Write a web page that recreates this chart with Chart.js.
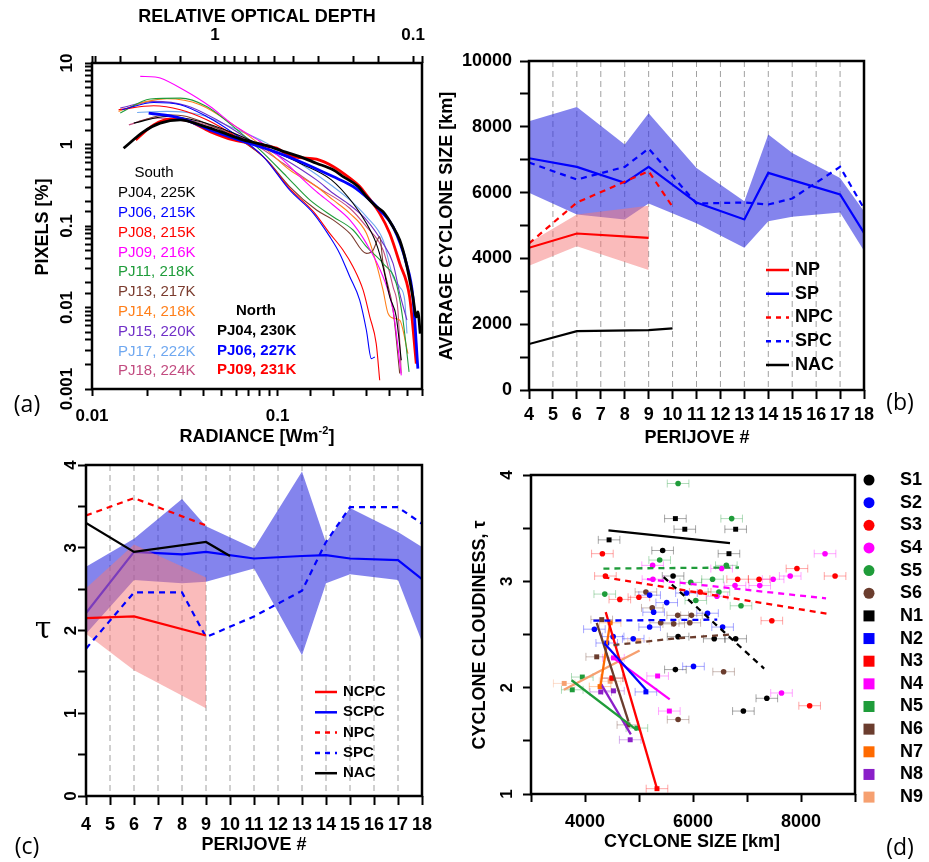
<!DOCTYPE html>
<html>
<head>
<meta charset="utf-8">
<title>Cyclone size and cloudiness</title>
<script src="https://cdn.jsdelivr.net/npm/chart.js@4.4.1/dist/chart.umd.min.js"></script>
<style>
  body { margin: 0; background: #fff; }
  #page { position: relative; width: 929px; height: 862px; overflow: hidden; background: #fff; }
  canvas { position: absolute; }
</style>
</head>
<body>
<div id="page">
  <canvas id="panelA" width="460" height="450" style="left:0px;top:0px"></canvas>
  <canvas id="panelB" width="499" height="420" style="left:430px;top:30px"></canvas>
  <canvas id="panelC" width="460" height="422" style="left:0px;top:440px"></canvas>
  <canvas id="panelD" width="489" height="422" style="left:440px;top:440px"></canvas>
</div>
<script>
const FONT = '"Liberation Sans", Arial, Helvetica, sans-serif';
Chart.defaults.font.family = FONT;
Chart.defaults.color = '#000';

// ---------- (a) radiance histograms, [radiance, pixels %] ----------
const southPJ04 = [[0.0168,1.83],[0.0253,2.21],[0.0382,1.92],[0.0578,1.38],[0.0873,0.902],[0.132,0.589],[0.195,0.368],[0.255,0.19],[0.301,0.108],[0.340,0.0612],[0.370,0.0316],[0.402,0.0135],[0.436,0.00767],[0.464,0.00225]];
const southPJ06 = [[0.0145,2.67],[0.0215,3.28],[0.0299,3.08],[0.0415,2.21],[0.0578,1.38],[0.0837,0.711],[0.116,0.277],[0.156,0.143],[0.191,0.074],[0.216,0.0461],[0.245,0.0238],[0.277,0.0123],[0.301,0.00526],[0.320,0.00236],[0.334,0.00247]];
const southPJ08 = [[0.0139,2.67],[0.0215,2.99],[0.0299,2.67],[0.0415,2.01],[0.0578,1.31],[0.0837,0.711],[0.116,0.290],[0.156,0.150],[0.191,0.0813],[0.225,0.0507],[0.255,0.0316],[0.289,0.0163],[0.314,0.00767],[0.340,0.0036],[0.355,0.00128]];
const southPJ09 = [[0.0182,6.85],[0.0219,6.73],[0.0233,6.54],[0.0311,4.70],[0.0433,2.93],[0.0578,1.74],[0.0804,1.09],[0.107,0.648],[0.132,0.404],[0.162,0.264],[0.199,0.181],[0.245,0.119],[0.301,0.0612],[0.370,0.0238],[0.419,0.00927],[0.464,0.00147]];
const southPJ11 = [[0.0142,2.43],[0.0206,3.61],[0.0299,3.71],[0.0415,2.93],[0.0578,1.66],[0.0804,0.859],[0.112,0.404],[0.149,0.209],[0.199,0.130],[0.255,0.0893],[0.301,0.0557],[0.370,0.0348],[0.436,0.0197],[0.474,0.00698],[0.511,0.00162]];
const southPJ13 = [[0.0178,1.92],[0.0253,2.32],[0.0324,2.21],[0.047,1.59],[0.0627,1.14],[0.0873,0.648],[0.116,0.305],[0.162,0.157],[0.199,0.119],[0.245,0.0813],[0.301,0.0461],[0.327,0.0507],[0.355,0.074],[0.370,0.0348],[0.419,0.00927],[0.455,0.00155]];
const southPJ14 = [[0.0139,2.55],[0.0198,3.38],[0.0253,3.64],[0.0382,3.08],[0.0578,1.74],[0.0873,0.859],[0.116,0.489],[0.162,0.305],[0.199,0.209],[0.245,0.143],[0.301,0.0813],[0.340,0.0348],[0.370,0.0163],[0.394,0.00843],[0.427,0.00732],[0.455,0.00698],[0.504,0.00272]];
const southPJ15 = [[0.0142,2.80],[0.0215,3.38],[0.0324,2.99],[0.047,2.01],[0.071,1.14],[0.107,0.679],[0.162,0.368],[0.199,0.252],[0.245,0.181],[0.301,0.119],[0.370,0.0612],[0.419,0.0348],[0.455,0.0149],[0.498,0.00698]];
const southPJ17 = [[0.0175,2.47],[0.0253,2.55],[0.0382,2.32],[0.0578,1.59],[0.0873,1.04],[0.132,0.589],[0.199,0.305],[0.245,0.209],[0.301,0.130],[0.370,0.0673],[0.419,0.0238],[0.455,0.0179],[0.484,0.0123],[0.498,0.00479]];
const southPJ18 = [[0.0158,1.74],[0.0215,2.11],[0.0324,2.01],[0.047,1.59],[0.071,1.09],[0.107,0.589],[0.162,0.305],[0.245,0.165],[0.301,0.098],[0.370,0.0507],[0.419,0.0179],[0.445,0.00927],[0.464,0.00155]];
const northPJ04 = [[0.0148,0.90],[0.0190,1.44],[0.0233,1.83],[0.0299,2.01],[0.0382,1.74],[0.0490,1.44],[0.0654,1.14],[0.0873,0.97],[0.1118,0.80],[0.1318,0.711],[0.162,0.589],[0.199,0.489],[0.2254,0.404],[0.2715,0.305],[0.301,0.230],[0.340,0.173],[0.370,0.150],[0.4187,0.098],[0.455,0.0673],[0.494,0.0348],[0.536,0.0135],[0.559,0.00767],[0.570,0.00885],[0.587,0.00479]];
const northPJ06 = [[0.0202,2.43],[0.0299,2.11],[0.0433,1.51],[0.0654,1.09],[0.0948,0.83],[0.1318,0.62],[0.199,0.404],[0.2552,0.305],[0.3136,0.209],[0.3549,0.157],[0.4187,0.098],[0.494,0.0348],[0.536,0.0135],[0.570,0.00178]];
const northPJ09 = [[0.0172,1.14],[0.0215,1.74],[0.0264,2.05],[0.0324,1.97],[0.0433,1.44],[0.0578,1.14],[0.0804,1.0],[0.0988,0.902],[0.1164,0.73],[0.1318,0.692],[0.162,0.660],[0.199,0.537],[0.245,0.386],[0.2772,0.305],[0.301,0.241],[0.3549,0.143],[0.4018,0.0813],[0.455,0.0348],[0.5146,0.0135],[0.5588,0.00205]];

const southSeries = [southPJ04, southPJ06, southPJ08, southPJ09, southPJ11, southPJ13, southPJ14, southPJ15, southPJ17, southPJ18];
const southLabels = ['PJ04, 225K','PJ06, 215K','PJ08, 215K','PJ09, 216K','PJ11, 218K','PJ13, 217K','PJ14, 218K','PJ15, 220K','PJ17, 222K','PJ18, 224K'];
const southColors = ['#000000','#0000ff','#ff0000','#ff00ff','#1f9c3a','#7a3b2e','#ff7f1a','#7030c8','#6fa8f0','#c24c80'];
const northSeries = [northPJ04, northPJ06, northPJ09];
const northLabels = ['PJ04, 230K','PJ06, 227K','PJ09, 231K'];
const northColors = ['#000000','#0000ff','#ff0000'];

// ---------- (b) and (c) per perijove ----------
const pjSouth = [4, 6, 8, 9, 11, 13, 14, 15, 17, 18];
const pjNorth = [4, 6, 9];
const pjNorthAll = [4, 6, 9, 10];

const sizeSP   = [7045, 6781, 6296, 6781, 5698, 5182, 6599, 6380, 5941, 4777];
const sizeSPhi = [8168, 8603, 7460, 8411, 6751, 5739, 7763, 7206, 6447, 5435];
const sizeSPlo = [5992, 5334, 5182, 5668, 5071, 4322, 5132, 5263, 5395, 4231];
const sizeSPC  = [6913, 6397, 6781, 7338, 5668, 5698, 5638, 5820, 6781, 5516];
const sizeNP   = [4322, 4757, 4626];
const sizeNPhi = [4474, 5334, 5597];
const sizeNPlo = [3775, 4372, 3644];
const sizeNPC  = [4453, 5698, 6650, 5567];
const sizeNAC  = [1397, 1791, 1822, 1872];

const tauSCPC   = [2.21, 2.95, 2.92, 2.95, 2.87, 2.90, 2.91, 2.87, 2.85, 2.62];
const tauSCPChi = [2.77, 3.11, 3.59, 3.26, 2.99, 3.92, 3.06, 3.48, 3.19, 3.01];
const tauSCPClo = [1.96, 2.61, 2.57, 2.59, 2.75, 1.70, 2.57, 2.68, 2.61, 1.86];
const tauSPC    = [1.78, 2.46, 2.46, 1.92, 2.17, 2.48, 3.07, 3.49, 3.49, 3.29];
const tauNCPC   = [2.15, 2.17, 1.94];
const tauNCPChi = [2.51, 3.04, 2.64];
const tauNCPClo = [1.96, 1.52, 1.06];
const tauNPC    = [3.39, 3.60, 3.27];
const tauNAC    = [3.30, 2.95, 3.07, 2.90];

// ---------- (d) cyclone size vs cloudiness, [size km, tau] ----------
const s1 = [[5438,3.29],[5631,3.05],[5724,2.48],[6393,2.46],[6790,2.46],[5674,2.17],[7367,1.90],[6933,1.78]];
const s2 = [[5197,2.87],[5513,2.80],[5271,2.71],[6269,2.70],[4174,2.55],[5197,2.57],[6548,2.57],[4521,2.48],[4893,2.46],[5879,2.89],[6009,2.20]];
const s3 = [[4322,3.26],[4378,3.05],[4645,2.83],[4998,2.85],[6133,2.90],[6827,3.02],[7224,3.02],[7925,3.12],[8631,3.05],[7460,2.63],[8160,1.83]];
const s4 = [[8445,3.26],[5252,3.15],[5258,3.02],[6530,3.12],[6778,2.96],[7236,2.96],[7484,3.02],[7800,3.05],[6443,2.86],[7639,1.95]];
const s5 = [[5724,3.92],[6716,3.59],[5383,3.20],[6617,3.15],[4366,2.88],[5959,2.99],[6362,3.02],[6480,2.90],[6052,2.82],[6889,2.77]];
const s6 = [[5128,2.90],[5246,2.75],[5717,2.68],[5972,2.68],[5401,2.61],[5643,2.60],[5941,2.61],[6567,2.15],[5724,1.70]];
const n1 = [[4446,3.39],[5674,3.59],[5848,3.49],[6790,3.49],[6666,3.26]];
const n2 = [[5128,1.96],[4403,2.42]];
const n3 = [[5333,1.05],[4496,2.09]];
const n4 = [[4527,2.28],[5345,2.11],[5562,1.78]];
const n5 = [[3950,2.10],[3764,1.98],[4961,1.62]];
const n6 = [[4310,2.64],[4217,2.29],[4794,1.65],[4508,2.09]];
const n7 = [[4279,2.01],[4465,2.61]];
const n8 = [[4291,1.96],[4527,1.97],[4837,1.51]];
const n9 = [[3615,2.04],[4465,2.06],[4990,2.44]];

const s1Fit = [[5457,3.04],[7317,2.18]];
const s2Fit = [[4155,2.63],[6449,2.64]];
const s3Fit = [[4341,3.04],[8557,2.69]];
const s4Fit = [[5147,3.02],[8464,2.84]];
const s5Fit = [[4341,3.12],[6852,3.13]];
const s6Fit = [[4527,2.40],[5600,2.46],[6697,2.50]];
const n1Fit = [[4434,3.48],[6685,3.36]];
const n2Fit = [[4353,2.42],[5147,1.97]];
const n3Fit = [[4384,2.71],[5333,1.05]];
const n4Fit = [[4527,2.28],[5569,1.89]];
const n5Fit = [[3752,2.07],[4961,1.60]];
const n6Fit = [[4217,2.61],[4806,1.68]];
const n7Fit = [[4285,2.01],[4465,2.61]];
const n8Fit = [[4291,2.04],[4849,1.56]];
const n9Fit = [[3609,1.98],[5011,2.35]];
const sizeErr = 200;

const cycloneNames  = ['S1','S2','S3','S4','S5','S6','N1','N2','N3','N4','N5','N6','N7','N8','N9'];
const cycloneColors = ['#000000','#0000ff','#ff0000','#ff00ff','#1f9c3a','#6b3d2e','#000000','#0000ff','#ff0000','#ff00ff','#1f9c3a','#6b3d2e','#ff6a00','#8a1fc8','#f6a070'];
const cyclonePoints = [s1, s2, s3, s4, s5, s6, n1, n2, n3, n4, n5, n6, n7, n8, n9];
const cycloneFits   = [s1Fit, s2Fit, s3Fit, s4Fit, s5Fit, s6Fit, n1Fit, n2Fit, n3Fit, n4Fit, n5Fit, n6Fit, n7Fit, n8Fit, n9Fit];

// ---------- helpers ----------
const xy = arr => arr.map(([x, y]) => ({ x, y }));
const pairs = (xs, ys) => xs.map((x, i) => ({ x, y: ys[i] }));
const isDecade = v => Math.abs(Math.log10(v) - Math.round(Math.log10(v))) < 1e-6;
const decadeText = v => String(Number(v.toPrecision(1)));
const BLUE_BAND = 'rgba(50,50,225,0.6)';
const PINK_BAND = 'rgba(245,120,120,0.5)';

function fade(hex, a) {
  const n = parseInt(hex.slice(1), 16);
  return `rgba(${n >> 16},${(n >> 8) & 255},${n & 255},${a})`;
}

function text(ctx, s, x, y, font, color, align, rot) {
  ctx.save();
  ctx.font = font;
  ctx.fillStyle = color || '#000';
  ctx.textAlign = align || 'center';
  ctx.textBaseline = 'middle';
  ctx.translate(x, y);
  if (rot) ctx.rotate(rot);
  ctx.fillText(s, 0, 0);
  ctx.restore();
}

function frame(chart) {
  const { ctx, chartArea: a } = chart;
  ctx.save();
  ctx.strokeStyle = '#000';
  ctx.lineWidth = 2.5;
  ctx.setLineDash([]);
  ctx.strokeRect(a.left, a.top, a.right - a.left, a.bottom - a.top);
  ctx.restore();
}

// y tick labels written bottom-to-top, as in the original
function yLabelsUp(chart, cx, keep, fmt) {
  const y = chart.scales.y;
  y.ticks.forEach(t => {
    if (keep(t.value)) text(chart.ctx, fmt(t.value), cx, y.getPixelForValue(t.value), 'bold 17px ' + FONT, '#000', 'center', -Math.PI / 2);
  });
}

function lineLegend(ctx, items, x0, x1, xt, y0, dy, font) {
  items.forEach((it, i) => {
    const y = y0 + i * dy;
    ctx.save();
    ctx.strokeStyle = it.color;
    ctx.lineWidth = 2.5;
    ctx.setLineDash(it.dash || []);
    ctx.beginPath();
    ctx.moveTo(x0, y);
    ctx.lineTo(x1, y);
    ctx.stroke();
    ctx.restore();
    text(ctx, it.label, xt, y, font, '#000', 'left');
  });
}

const dashGrid = {
  id: 'dashGrid',
  beforeDatasetsDraw(chart) {
    const { ctx, chartArea: a, scales: { x } } = chart;
    ctx.save();
    ctx.strokeStyle = '#a0a0a0';
    ctx.lineWidth = 1;
    ctx.setLineDash([6, 4]);
    x.ticks.forEach(t => {
      if (t.value <= x.min || t.value >= x.max) return;
      const px = x.getPixelForValue(t.value);
      ctx.beginPath();
      ctx.moveTo(px, a.top);
      ctx.lineTo(px, a.bottom);
      ctx.stroke();
    });
    ctx.restore();
  }
};

const tickGrid = len => ({ display: true, drawOnChartArea: false, drawTicks: true, tickLength: len, tickWidth: 2, tickColor: '#000' });
const baseOptions = () => ({
  responsive: false,
  animation: false,
  events: [],
  plugins: { legend: { display: false }, tooltip: { enabled: false } },
  elements: { point: { radius: 0 } }
});

// ---------- panel (a) ----------
const aSets = [];
northSeries.forEach((d, i) => aSets.push({ data: xy(d), borderColor: northColors[i], borderWidth: 2.8, cubicInterpolationMode: 'monotone', order: 1 }));
southSeries.forEach((d, i) => aSets.push({ data: xy(d), borderColor: southColors[i], borderWidth: 1.1, cubicInterpolationMode: 'monotone', order: 2 }));

function radianceTitle(ctx, cx, cy) {
  const f = 'bold 18px ' + FONT, fs = 'bold 11px ' + FONT;
  ctx.save();
  ctx.font = f;
  const w1 = ctx.measureText('RADIANCE [Wm').width, w3 = ctx.measureText(']').width;
  ctx.font = fs;
  const w2 = ctx.measureText('-2').width;
  let x = cx - (w1 + w2 + w3) / 2;
  ctx.restore();
  text(ctx, 'RADIANCE [Wm', x, cy, f, '#000', 'left'); x += w1;
  text(ctx, '-2', x, cy - 6, fs, '#000', 'left'); x += w2;
  text(ctx, ']', x, cy, f, '#000', 'left');
}

const optA = baseOptions();
optA.layout = { padding: { left: 0, right: 38, top: 0, bottom: 0 } };
optA.scales = {
  x: {
    type: 'logarithmic', position: 'bottom', min: 0.01, max: 0.6,
    afterFit: s => { s.height = 61; },
    grid: tickGrid(7), border: { display: false },
    ticks: { autoSkip: false, maxRotation: 0, padding: 10, font: { size: 17, weight: 'bold' }, callback: v => isDecade(v) ? decadeText(v) : '' }
  },
  x2: {
    type: 'logarithmic', position: 'top', reverse: true, min: 0.0901, max: 4.18,
    afterFit: s => { s.height = 63; },
    grid: tickGrid(7), border: { display: false },
    ticks: { autoSkip: false, maxRotation: 0, padding: 10, font: { size: 17, weight: 'bold' }, callback: v => isDecade(v) ? decadeText(v) : '' }
  },
  y: {
    type: 'logarithmic', min: 0.001, max: 10,
    afterFit: s => { s.width = 92; },
    grid: tickGrid(7), border: { display: false },
    ticks: { display: false, autoSkip: false }
  }
};

new Chart(document.getElementById('panelA'), {
  type: 'line',
  data: { datasets: aSets },
  options: optA,
  plugins: [{
    id: 'panelAExtras',
    afterDraw(chart) {
      const ctx = chart.ctx;
      frame(chart);
      yLabelsUp(chart, 67, isDecade, decadeText);
      text(ctx, 'RELATIVE OPTICAL DEPTH', 257, 17, 'bold 18px ' + FONT);
      radianceTitle(ctx, 257, 437);
      text(ctx, 'PIXELS [%]', 43, 227, 'bold 18px ' + FONT, '#000', 'center', -Math.PI / 2);
      text(ctx, '(a)', 27, 405, '23px "Open Sans", sans-serif');
      text(ctx, 'South', 154, 173, '15px ' + FONT);
      southLabels.forEach((s, i) => text(ctx, s, 118, 193 + i * 19.8, '15px ' + FONT, southColors[i], 'left'));
      text(ctx, 'North', 256, 311, 'bold 15px ' + FONT);
      northLabels.forEach((s, i) => text(ctx, s, 217, 331 + i * 19.6, 'bold 15px ' + FONT, northColors[i], 'left'));
    }
  }]
});

// ---------- panel (b) ----------
const perijoveAxis = (h, pad) => ({
  type: 'linear', min: 4, max: 18,
  afterFit: s => { s.height = h; },
  grid: tickGrid(9), border: { display: false },
  ticks: { stepSize: 1, autoSkip: false, maxRotation: 0, padding: pad, font: { size: 18, weight: 'bold' } }
});

const optB = baseOptions();
optB.layout = { padding: { left: 0, right: 65, top: 31, bottom: 0 } };
optB.scales = {
  x: perijoveAxis(60, 5),
  y: {
    min: 0, max: 10000,
    afterFit: s => { s.width = 99; },
    grid: tickGrid(9), border: { display: false },
    ticks: { stepSize: 1000, autoSkip: false, padding: 8, font: { size: 18, weight: 'bold' }, callback: v => v % 2000 === 0 ? String(v) : '' }
  }
};

new Chart(document.getElementById('panelB'), {
  type: 'line',
  data: {
    datasets: [
      { data: pairs(pjSouth, sizeSPlo), borderWidth: 0, fill: false, order: 10 },
      { data: pairs(pjSouth, sizeSPhi), borderWidth: 0, fill: '-1', backgroundColor: BLUE_BAND, order: 9 },
      { data: pairs(pjSouth, sizeSP), borderColor: '#0000ff', borderWidth: 2.2, order: 8 },
      { data: pairs(pjSouth, sizeSPC), borderColor: '#0000ff', borderWidth: 2.2, borderDash: [6, 5], order: 7 },
      { data: pairs(pjNorth, sizeNPlo), borderWidth: 0, fill: false, order: 6 },
      { data: pairs(pjNorth, sizeNPhi), borderWidth: 0, fill: '-1', backgroundColor: PINK_BAND, order: 5 },
      { data: pairs(pjNorth, sizeNP), borderColor: '#ff0000', borderWidth: 2.2, order: 4 },
      { data: pairs(pjNorthAll, sizeNPC), borderColor: '#ff0000', borderWidth: 2.2, borderDash: [6, 5], order: 3 },
      { data: pairs(pjNorthAll, sizeNAC), borderColor: '#000000', borderWidth: 2.2, order: 2 }
    ]
  },
  options: optB,
  plugins: [dashGrid, {
    id: 'panelBExtras',
    afterDraw(chart) {
      const ctx = chart.ctx;
      frame(chart);
      text(ctx, 'AVERAGE CYCLONE SIZE [km]', 17, 196, 'bold 18px ' + FONT, '#000', 'center', -Math.PI / 2);
      text(ctx, 'PERIJOVE #', 267, 408, 'bold 18px ' + FONT);
      text(ctx, '(b)', 470, 373, '23px "Open Sans", sans-serif');
      lineLegend(ctx, [
        { label: 'NP', color: '#ff0000' },
        { label: 'SP', color: '#0000ff' },
        { label: 'NPC', color: '#ff0000', dash: [5, 5] },
        { label: 'SPC', color: '#0000ff', dash: [5, 5] },
        { label: 'NAC', color: '#000000' }
      ], 336, 359, 365, 240, 23.75, 'bold 18px ' + FONT);
    }
  }]
});

// ---------- panel (c) ----------
const optC = baseOptions();
optC.layout = { padding: { left: 0, right: 38, top: 25, bottom: 0 } };
optC.scales = {
  x: perijoveAxis(66, 9),
  y: {
    min: 0, max: 4,
    afterFit: s => { s.width = 86; },
    grid: tickGrid(8), border: { display: false },
    ticks: { display: false, stepSize: 0.5, autoSkip: false }
  }
};

new Chart(document.getElementById('panelC'), {
  type: 'line',
  data: {
    datasets: [
      { data: pairs(pjSouth, tauSCPClo), borderWidth: 0, fill: false, order: 10 },
      { data: pairs(pjSouth, tauSCPChi), borderWidth: 0, fill: '-1', backgroundColor: BLUE_BAND, order: 9 },
      { data: pairs(pjSouth, tauSCPC), borderColor: '#0000ff', borderWidth: 2.2, order: 8 },
      { data: pairs(pjNorth, tauNCPClo), borderWidth: 0, fill: false, order: 7 },
      { data: pairs(pjNorth, tauNCPChi), borderWidth: 0, fill: '-1', backgroundColor: PINK_BAND, order: 6 },
      { data: pairs(pjSouth, tauSPC), borderColor: '#0000ff', borderWidth: 2.2, borderDash: [6, 5], order: 5 },
      { data: pairs(pjNorth, tauNCPC), borderColor: '#ff0000', borderWidth: 2.2, order: 4 },
      { data: pairs(pjNorth, tauNPC), borderColor: '#ff0000', borderWidth: 2.2, borderDash: [6, 5], order: 3 },
      { data: pairs(pjNorthAll, tauNAC), borderColor: '#000000', borderWidth: 2.2, order: 2 }
    ]
  },
  options: optC,
  plugins: [dashGrid, {
    id: 'panelCExtras',
    afterDraw(chart) {
      const ctx = chart.ctx;
      frame(chart);
      yLabelsUp(chart, 71, v => Number.isInteger(v), v => String(v));
      text(ctx, '\u03c4', 43, 190, '30px "DejaVu Serif", serif');
      text(ctx, 'PERIJOVE #', 254, 405, 'bold 18px ' + FONT);
      text(ctx, '(c)', 27, 407, '23px "Open Sans", sans-serif');
      lineLegend(ctx, [
        { label: 'NCPC', color: '#ff0000' },
        { label: 'SCPC', color: '#0000ff' },
        { label: 'NPC', color: '#ff0000', dash: [5, 5] },
        { label: 'SPC', color: '#0000ff', dash: [5, 5] },
        { label: 'NAC', color: '#000000' }
      ], 315, 337, 343, 252, 20.3, 'bold 15px ' + FONT);
    }
  }]
});

// ---------- panel (d) ----------
const dSets = [];
cycloneNames.forEach((nm, i) => {
  const north = nm[0] === 'N';
  dSets.push({
    data: xy(cyclonePoints[i]), backgroundColor: cycloneColors[i], borderColor: cycloneColors[i],
    pointStyle: north ? 'rect' : 'circle', pointRadius: north ? 3.5 : 2.8, borderWidth: 0,
    errColor: fade(cycloneColors[i], 0.35), order: 5
  });
  dSets.push({
    data: xy(cycloneFits[i]), showLine: true, borderColor: cycloneColors[i], borderWidth: 2.3,
    borderDash: north ? [] : [6, 5], pointRadius: 0, order: 1
  });
});

const errBars = {
  id: 'errBars',
  beforeDatasetsDraw(chart) {
    const { ctx, chartArea: a, scales: { x, y } } = chart;
    ctx.save();
    ctx.beginPath();
    ctx.rect(a.left, a.top, a.right - a.left, a.bottom - a.top);
    ctx.clip();
    ctx.lineWidth = 1;
    chart.data.datasets.forEach(ds => {
      if (!ds.errColor) return;
      ctx.strokeStyle = ds.errColor;
      ds.data.forEach(p => {
        const xl = x.getPixelForValue(p.x - sizeErr), xr = x.getPixelForValue(p.x + sizeErr), py = y.getPixelForValue(p.y);
        ctx.beginPath();
        ctx.moveTo(xl, py); ctx.lineTo(xr, py);
        ctx.moveTo(xl, py - 4); ctx.lineTo(xl, py + 4);
        ctx.moveTo(xr, py - 4); ctx.lineTo(xr, py + 4);
        ctx.stroke();
      });
    });
    ctx.restore();
  }
};

const optD = baseOptions();
optD.layout = { padding: { left: 0, right: 74, top: 35, bottom: 0 } };
optD.scales = {
  x: {
    type: 'linear', min: 3000, max: 9000,
    afterFit: s => { s.height = 68; },
    grid: tickGrid(8), border: { display: false },
    ticks: { stepSize: 1000, autoSkip: false, maxRotation: 0, padding: 9, font: { size: 18, weight: 'bold' }, callback: v => v % 2000 === 0 ? String(v) : '' }
  },
  y: {
    min: 1, max: 4,
    afterFit: s => { s.width = 91; },
    grid: tickGrid(8), border: { display: false },
    ticks: { display: false, stepSize: 0.5, autoSkip: false }
  }
};

new Chart(document.getElementById('panelD'), {
  type: 'scatter',
  data: { datasets: dSets },
  options: optD,
  plugins: [errBars, {
    id: 'panelDExtras',
    afterDraw(chart) {
      const ctx = chart.ctx;
      frame(chart);
      yLabelsUp(chart, 67.5, v => Number.isInteger(v), v => String(v));
      text(ctx, 'CYCLONE CLOUDINESS, \u03c4', 40, 195, 'bold 18px ' + FONT, '#000', 'center', -Math.PI / 2);
      text(ctx, 'CYCLONE SIZE [km]', 252, 402, 'bold 18px ' + FONT);
      text(ctx, '(d)', 460, 408, '23px "Open Sans", sans-serif');
      cycloneNames.forEach((nm, i) => {
        const ly = 40 + i * 22.65;
        ctx.save();
        ctx.fillStyle = cycloneColors[i];
        if (nm[0] === 'N') {
          ctx.fillRect(429 - 5.5, ly - 5.5, 11, 11);
        } else {
          ctx.beginPath();
          ctx.arc(429, ly, 5.5, 0, Math.PI * 2);
          ctx.fill();
        }
        ctx.restore();
        text(ctx, nm, 460, ly, 'bold 18px ' + FONT, '#000', 'left');
      });
    }
  }]
});
</script>
</body>
</html>
